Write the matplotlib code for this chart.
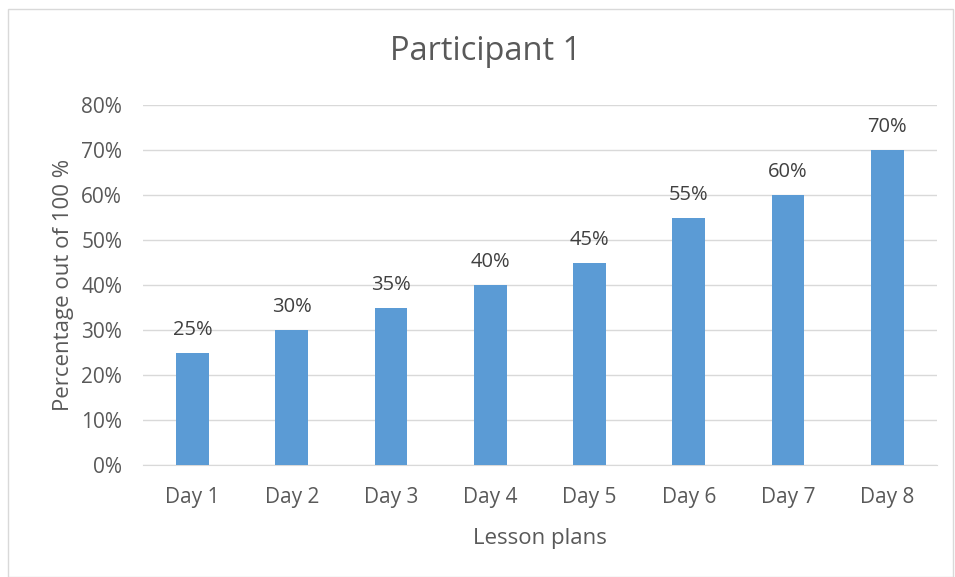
import matplotlib
matplotlib.use("Agg")
import matplotlib.pyplot as plt
from matplotlib.patches import Rectangle
from matplotlib.ticker import FuncFormatter

categories = ["Day 1", "Day 2", "Day 3", "Day 4", "Day 5", "Day 6", "Day 7", "Day 8"]
values = [25, 30, 35, 40, 45, 55, 60, 70]
yticks = [0, 10, 20, 30, 40, 50, 60, 70, 80]

plt.rcParams['font.family'] = ['Open Sans', 'DejaVu Sans']
text_color = '#595959'

fig = plt.figure(figsize=(9.55, 5.77), dpi=100)
fig.patches.append(Rectangle((0.008, 0.0), 0.99, 0.985, transform=fig.transFigure,
                             fill=False, edgecolor='#D9D9D9', linewidth=1))
ax = fig.add_axes([0.1497, 0.1941, 0.8313, 0.6239])

x = range(len(categories))
ax.bar(x, values, width=0.33, color='#5B9BD5', zorder=3)
for xi, v in zip(x, values):
    ax.text(xi, v + 2.8, f"{v}%", ha='center', va='bottom', fontsize=14.5, color='#404040')

ax.set_xlim(-0.5, len(categories) - 0.5)
ax.set_ylim(0, 80)
ax.set_yticks(yticks)
ax.yaxis.set_major_formatter(FuncFormatter(lambda v, p: f"{int(v)}%"))
ax.set_xticks(list(x))
ax.set_xticklabels(categories)
ax.grid(axis='y', color='#D9D9D9', linewidth=1, zorder=0)
for s in ['top', 'right', 'left']:
    ax.spines[s].set_visible(False)
ax.spines['bottom'].set_color('#D9D9D9')
ax.tick_params(axis='both', length=0, labelsize=15, labelcolor=text_color)
ax.tick_params(axis='y', pad=15)
ax.tick_params(axis='x', pad=16)

ax.set_xlabel("Lesson plans", fontsize=16, color=text_color, labelpad=14)
ax.set_ylabel("Percentage out of 100 %", fontsize=16, color=text_color, labelpad=5)
fig.text(0.508, 0.91, "Participant 1", ha='center', va='center', fontsize=23.5, color=text_color)

fig.savefig("out.png", dpi=100)
